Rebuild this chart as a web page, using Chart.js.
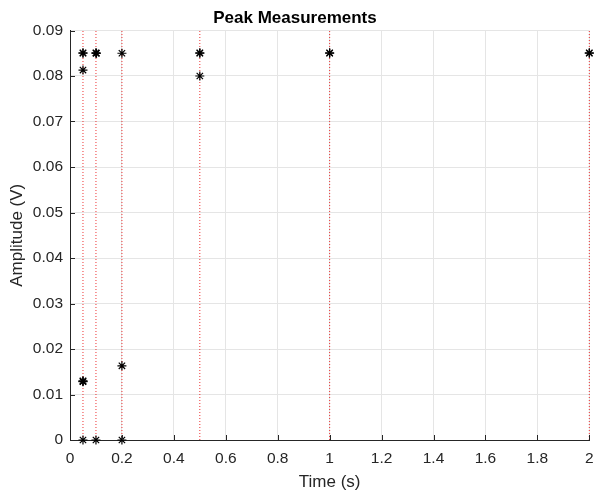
<!DOCTYPE html>
<html>
<head>
<meta charset="utf-8">
<script src="https://cdn.jsdelivr.net/npm/chart.js@4/dist/chart.umd.min.js"></script>
<style>
html,body{margin:0;padding:0;background:#fff;}
#wrap{width:595px;height:494px;position:relative;}
</style>
</head>
<body>
<div id="wrap"><canvas id="c" width="595" height="494"></canvas></div>
<script>
// Data
const peakTimes = [0.05, 0.05, 0.05, 0.05, 0.05, 0.05, 0.05,
                   0.1, 0.1, 0.102, 0.1,
                   0.2, 0.2, 0.2,
                   0.5, 0.5, 0.5,
                   1, 1,
                   2, 2];
const peakAmps  = [0.0850, 0.0851, 0.0813, 0.0128, 0.0130, 0.0129, 0,
                   0.0850, 0.0851, 0.0850, 0,
                   0.0850, 0.0163, 0,
                   0.0850, 0.0851, 0.0800,
                   0.0850, 0.0851,
                   0.0850, 0.0851];
const markerTimes = [0.05, 0.1, 0.2, 0.5, 1, 2];
const markerRange = [0, 0.09];
const xTickStep = 0.2;
const yTickStep = 0.01;

const axisColor = '#262626';
const gridColor = '#e5e5e5';
const fam = 'Liberation Sans, Arial, sans-serif';

const lineSets = markerTimes.map(t => ({
  type: 'line',
  data: markerRange.map(v => ({x: t, y: v})),
  borderColor: 'rgba(235,30,30,0.9)',
  borderWidth: 1,
  borderDash: [1, 2],
  pointRadius: 0,
  fill: false,
  clip: false,
  order: 2
}));

const scatterSet = {
  type: 'scatter',
  data: peakTimes.map((t, i) => ({x: t, y: peakAmps[i]})),
  pointStyle: 'star',
  pointRadius: 4.5,
  borderColor: '#000',
  backgroundColor: '#000',
  pointBorderWidth: 1.2,
  borderWidth: 1.2,
  clip: false,
  order: 1
};

const insideTicks = {
  id: 'insideTicks',
  afterDatasetsDraw(chart) {
    const {ctx, chartArea: a, scales: {x, y}} = chart;
    ctx.save();
    ctx.strokeStyle = axisColor;
    ctx.lineWidth = 1;
    ctx.beginPath();
    x.ticks.forEach(t => {
      const px = Math.round(x.getPixelForValue(t.value)) + 0.5;
      ctx.moveTo(px, a.bottom);
      ctx.lineTo(px, a.bottom - 5);
    });
    y.ticks.forEach(t => {
      const py = Math.round(y.getPixelForValue(t.value)) + 0.5;
      ctx.moveTo(a.left, py);
      ctx.lineTo(a.left + 5, py);
    });
    ctx.stroke();
    ctx.restore();
  }
};

const fmt = v => String(Number(v.toFixed(3)));

new Chart(document.getElementById('c'), {
  data: { datasets: [scatterSet, ...lineSets] },
  options: {
    responsive: false,
    animation: false,
    devicePixelRatio: 1,
    layout: { padding: { left: 0, right: 5, top: 0, bottom: 0 } },
    plugins: {
      legend: { display: false },
      tooltip: { enabled: false },
      title: {
        display: true,
        text: 'Peak Measurements',
        color: '#000',
        font: { family: fam, size: 17, weight: 'bold' },
        padding: { top: 8, bottom: 2.1 }
      }
    },
    scales: {
      x: {
        type: 'linear',
        min: 0, max: 2,
        ticks: { stepSize: xTickStep, color: axisColor, font: { family: fam, size: 15.5, lineHeight: 2.45 }, padding: 0, maxRotation: 0, autoSkip: false, callback: fmt },
        grid: { color: gridColor, drawTicks: false },
        border: { color: axisColor, width: 1 },
        title: { display: true, text: 'Time (s)', color: axisColor, font: { family: fam, size: 17 }, padding: { top: 0, bottom: 1.8 } },
        afterFit(s) { s.height = 54; }
      },
      y: {
        type: 'linear',
        min: 0, max: 0.09,
        ticks: { stepSize: yTickStep, color: axisColor, font: { family: fam, size: 15.5 }, padding: 7, callback: fmt },
        grid: { color: gridColor, drawTicks: false },
        border: { color: axisColor, width: 1 },
        title: { display: true, text: 'Amplitude (V)', color: axisColor, font: { family: fam, size: 17 }, padding: { top: 7.5, bottom: 0 } },
        afterFit(s) { s.width = 70; }
      }
    }
  },
  plugins: [insideTicks]
});
</script>
</body>
</html>
